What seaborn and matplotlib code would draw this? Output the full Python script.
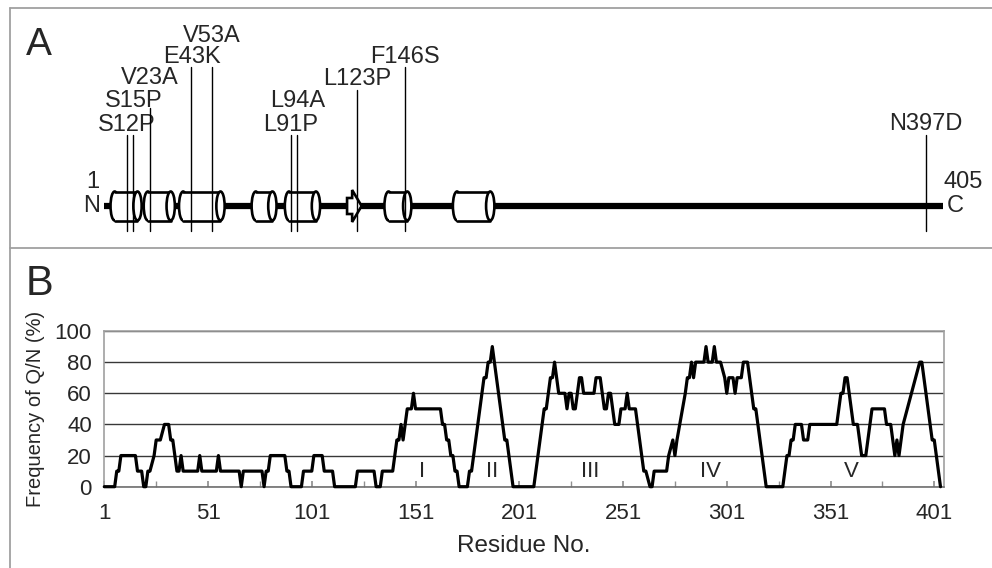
import matplotlib.pyplot as plt
from matplotlib.patches import Ellipse, Rectangle, Polygon
from matplotlib.lines import Line2D
import seaborn as sns

# Panel A: protein schematic
protein_length = 405
mutations = ['S12P', 'S15P', 'V23A', 'E43K', 'V53A', 'L91P', 'L94A', 'L123P', 'F146S', 'N397D']
mutation_sites = [12, 15, 23, 43, 53, 91, 94, 123, 146, 397]
helix_starts = [4, 20, 37, 72, 88, 136, 169]
helix_ends = [19, 35, 59, 84, 105, 149, 189]
strand_start = 118
strand_end = 125

# Panel B: Q/N frequency profile (vertices of the curve)
profile_res = [1, 6, 7, 8, 9, 16, 17, 19, 20, 21, 22, 23, 25, 26, 28, 30, 32, 33, 34, 35,
               36, 37, 38, 39, 46, 47, 48, 55, 56, 57, 66, 67, 68, 77, 78, 79, 80, 81, 88, 89,
               90, 91, 96, 97, 101, 102, 106, 107, 111, 112, 122, 123, 131, 132, 134, 135, 140, 141, 142, 143,
               144, 145, 146, 147, 149, 150, 151, 163, 164, 165, 166, 167, 168, 169, 170, 171, 172, 176, 177, 178,
               184, 185, 186, 187, 188, 189, 194, 195, 196, 198, 208, 213, 214, 215, 216, 217, 218, 219, 220, 223,
               224, 225, 226, 227, 228, 229, 230, 231, 232, 237, 238, 240, 241, 242, 243, 244, 245, 246, 247, 249,
               250, 252, 253, 254, 257, 258, 261, 262, 264, 265, 266, 272, 273, 275, 276, 277, 281, 282, 283, 284,
               285, 286, 290, 291, 292, 294, 295, 296, 298, 300, 301, 302, 304, 305, 306, 308, 309, 311, 314, 315,
               320, 328, 330, 331, 332, 333, 334, 337, 338, 340, 341, 354, 355, 356, 357, 358, 359, 362, 364, 366,
               368, 370, 371, 377, 378, 380, 381, 382, 383, 384, 386, 388, 390, 392, 394, 395, 397, 399, 400, 401,
               404]
profile_val = [0, 0, 10, 10, 20, 20, 10, 10, 0, 0, 10, 10, 20, 30, 30, 40, 40, 30, 30, 20,
               10, 10, 20, 10, 10, 20, 10, 10, 20, 10, 10, 0, 10, 10, 0, 10, 10, 20, 20, 10,
               10, 0, 0, 10, 10, 20, 20, 10, 10, 0, 0, 10, 10, 0, 0, 10, 10, 20, 30, 30,
               40, 30, 40, 50, 50, 60, 50, 50, 40, 40, 30, 30, 20, 20, 10, 10, 0, 0, 10, 10,
               70, 70, 80, 80, 90, 80, 30, 30, 20, 0, 0, 50, 50, 60, 70, 70, 80, 70, 60, 60,
               50, 60, 60, 50, 50, 60, 70, 70, 60, 60, 70, 70, 60, 50, 50, 60, 60, 50, 40, 40,
               50, 50, 60, 50, 50, 40, 10, 10, 0, 0, 10, 10, 20, 30, 20, 30, 60, 70, 70, 80,
               70, 80, 80, 90, 80, 80, 90, 80, 80, 70, 60, 70, 70, 60, 70, 70, 80, 80, 50, 50,
               0, 0, 20, 20, 30, 30, 40, 40, 30, 30, 40, 40, 50, 60, 60, 70, 70, 40, 40, 20,
               20, 40, 50, 50, 40, 40, 30, 20, 30, 20, 40, 50, 60, 70, 80, 80, 60, 40, 30, 30,
               0]

domain_names = ['I', 'II', 'III', 'IV', 'V']
domain_centers = [154, 188, 235, 293, 361]
xtick_values = [1, 51, 101, 151, 201, 251, 301, 351, 401]
ytick_values = [0, 20, 40, 60, 80, 100]

# label stagger in panel A (pixel rows from the top of the figure)
label_baseline = [131, 107, 84, 63, 42, 131, 107, 85, 63, 130]
line_top = [135, 135, 108, 67, 67, 135, 135, 90, 67, 135]

sns.set_theme(style='white')
plt.rcParams['font.family'] = ['Liberation Sans', 'DejaVu Sans']

fig = plt.figure(figsize=(9.92, 5.68), dpi=100)
W, H = 992, 568
left = 104.3 / W
width = 839.3 / W
xlim = (1, 405.5)

# ---- panel A ----
axA = fig.add_axes([left, (H - 248) / H, width, 240 / H])
axA.set_xlim(*xlim)
axA.set_ylim(248, 8)
axA.axis('off')

yc = 206
axA.plot([1, protein_length], [yc, yc], color='black', lw=4.5, solid_capstyle='butt',
         zorder=2, clip_on=False)

ew, hh = 4.0, 29
for s, e in zip(helix_starts, helix_ends):
    axA.add_patch(Ellipse((s + ew / 2, yc), ew, hh, fc='white', ec='black', lw=1.9, zorder=3))
    axA.add_patch(Rectangle((s + ew / 2, yc - hh / 2), e - s - ew, hh, fc='white', ec='none', zorder=4))
    axA.plot([s + ew / 2, e - ew / 2], [yc - hh / 2, yc - hh / 2], color='black', lw=1.9, zorder=4)
    axA.plot([s + ew / 2, e - ew / 2], [yc + hh / 2, yc + hh / 2], color='black', lw=1.9, zorder=4)
    axA.add_patch(Ellipse((e - ew / 2, yc), ew, hh, fc='white', ec='black', lw=1.9, zorder=5))

xm = strand_start + (strand_end - strand_start) * 0.35
arrow = [(strand_start, yc - 8), (xm, yc - 8), (xm, yc - 16), (strand_end, yc),
         (xm, yc + 16), (xm, yc + 8), (strand_start, yc + 8)]
axA.add_patch(Polygon(arrow, closed=True, fc='white', ec='black', lw=1.9, zorder=4))

for name, site, base, top in zip(mutations, mutation_sites, label_baseline, line_top):
    axA.plot([site, site], [top, 231], color='black', lw=1.0, zorder=6, clip_on=False)
    axA.text(site, base, name, ha='center', va='baseline', fontsize=17)

axA.annotate('N', xy=(1, yc), xytext=(-3, 0), textcoords='offset points',
             ha='right', va='center', fontsize=17)
axA.annotate('1', xy=(1, yc), xytext=(-8, 17), textcoords='offset points',
             ha='center', va='center', fontsize=17)
axA.annotate('C', xy=(protein_length, yc), xytext=(3, 0), textcoords='offset points',
             ha='left', va='center', fontsize=17)
axA.annotate('405', xy=(protein_length, yc), xytext=(1, 17), textcoords='offset points',
             ha='left', va='center', fontsize=17)

# ---- panel B ----
axB = fig.add_axes([left, 81.3 / H, width, 155.7 / H])
sns.lineplot(x=profile_res, y=profile_val, ax=axB, color='black', lw=2.3,
             estimator=None, zorder=3, clip_on=False)
axB.set_xlim(*xlim)
axB.set_ylim(0, 100)
axB.set_xticks(xtick_values)
axB.set_xticklabels([str(v) for v in xtick_values], fontsize=16)
axB.set_xticks([v + 25 for v in xtick_values[:-1]], minor=True)
axB.set_yticks(ytick_values)
axB.set_yticklabels([str(v) for v in ytick_values], fontsize=16)
axB.tick_params(axis='x', which='both', direction='in', length=4, color='#909090',
                bottom=True, pad=12)
axB.tick_params(axis='y', length=0, pad=9)
axB.grid(axis='y', color='#383838', lw=1.0)
for side in ['top', 'left', 'right']:
    axB.spines[side].set_color('#a0a0a0')
    axB.spines[side].set_linewidth(1.2)
axB.spines['bottom'].set_color('#707070')
axB.spines['bottom'].set_linewidth(1.2)

for name, c in zip(domain_names, domain_centers):
    axB.text(c, 10, name, ha='center', va='center', fontsize=16)

axB.set_xlabel('Residue No.', fontsize=17.5, labelpad=8)
axB.set_ylabel('Frequency of Q/N (%)', fontsize=14.5, labelpad=7)

# panel frames and letters
gray = '#a0a0a0'
fig.add_artist(Line2D([9.5 / W, 1], [1 - 7.5 / H] * 2, transform=fig.transFigure, color=gray, lw=1.3))
fig.add_artist(Line2D([9.5 / W] * 2, [0, 1 - 7.5 / H], transform=fig.transFigure, color=gray, lw=1.3))
fig.add_artist(Line2D([9.5 / W, 1], [1 - 248.3 / H] * 2, transform=fig.transFigure, color=gray, lw=1.3))
fig.text(26 / W, 1 - 55 / H, 'A', fontsize=28, va='baseline')
fig.text(26 / W, 1 - 295 / H, 'B', fontsize=30, va='baseline')

fig.savefig('out.png', dpi=100)
